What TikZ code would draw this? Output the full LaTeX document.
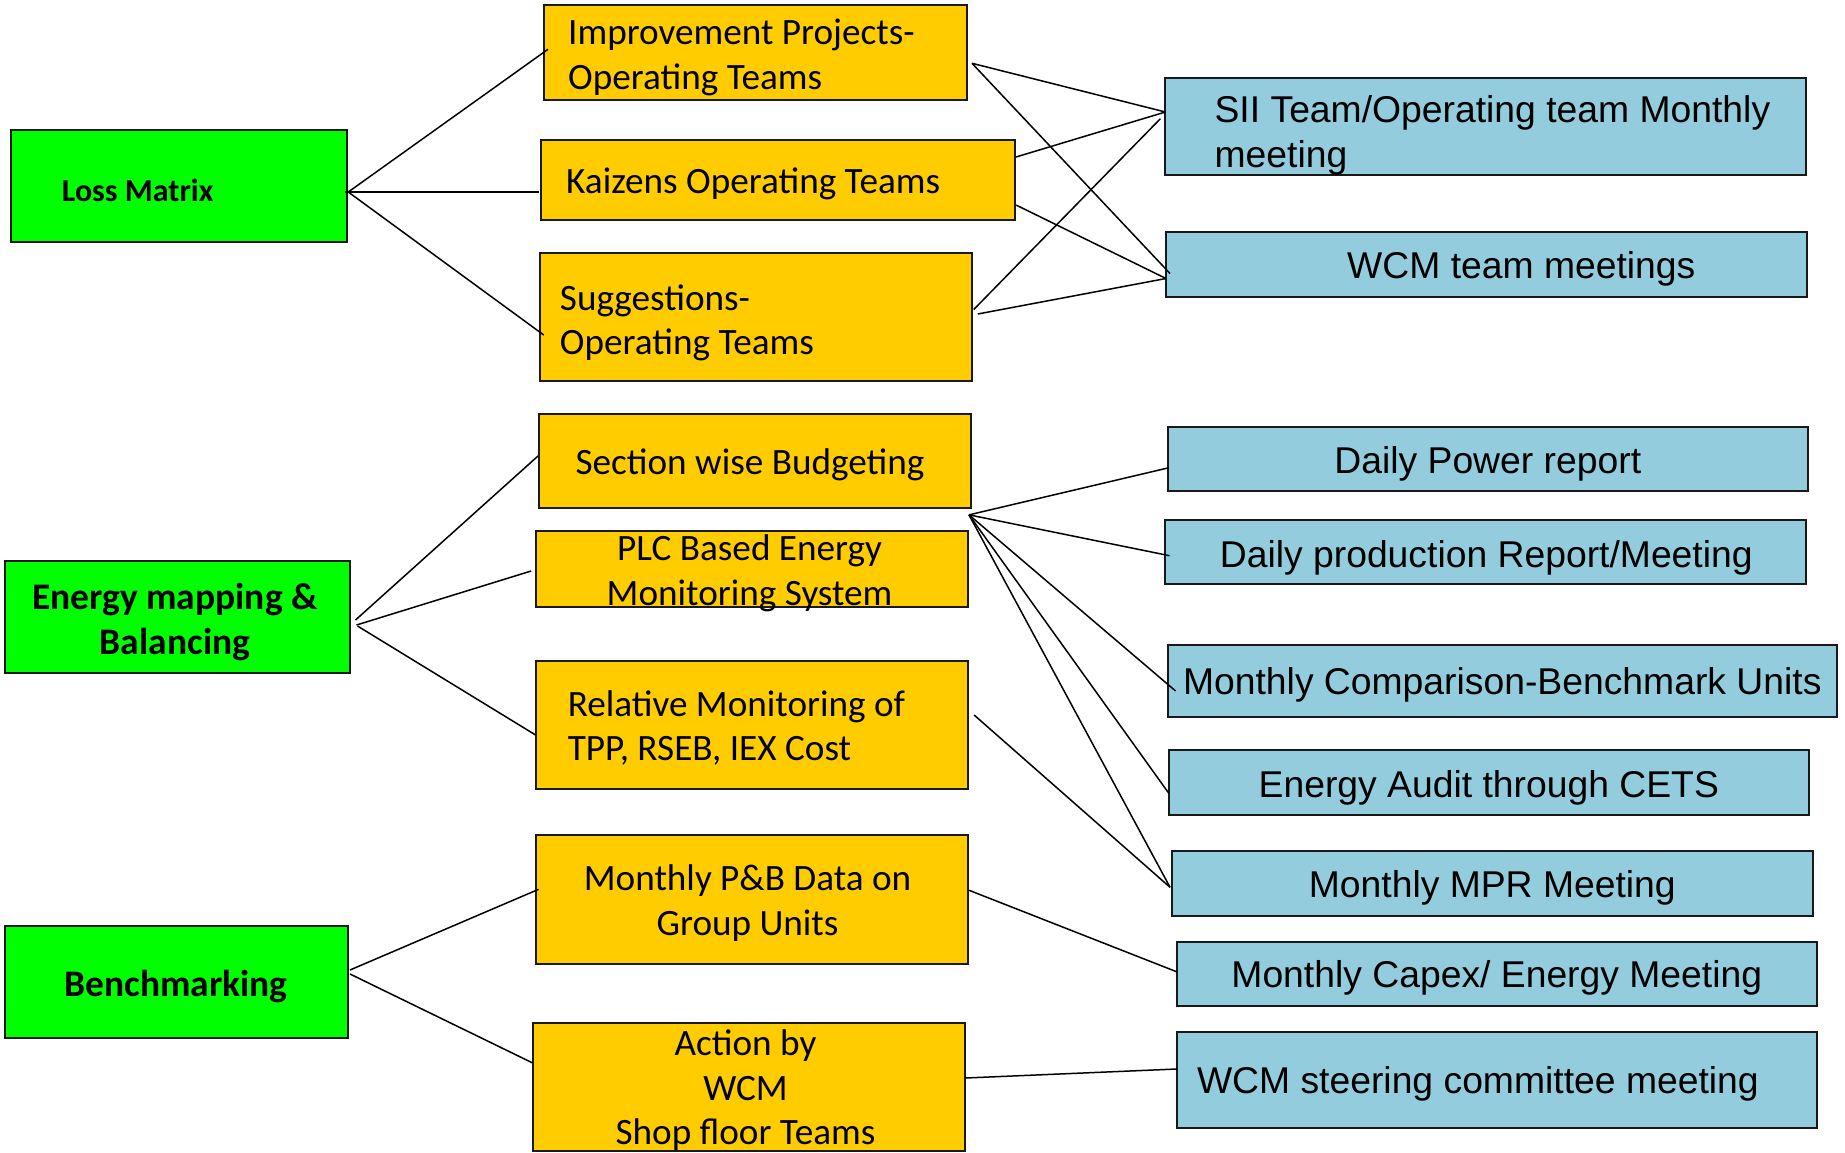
\documentclass[tikz,border=0pt]{standalone}
\usepackage{fontspec}
\setmainfont{Carlito}
\newfontfamily\arialfont{Liberation Sans}
\usetikzlibrary{calc}
\definecolor{lossgreen}{RGB}{0,255,0}
\definecolor{teamgold}{RGB}{255,204,0}
\definecolor{meetblue}{RGB}{147,205,221}

\begin{document}
\begin{tikzpicture}[x=1pt,y=-1pt,
  size/.style 2 args={minimum width=#1pt, minimum height=#2pt},
  base/.style={draw=black!90, line width=2pt, inner sep=0pt, outer sep=0pt},
  green box/.style={base, fill=lossgreen},
  gold box/.style={base, fill=teamgold},
  blue box/.style={base, fill=meetblue},
  txt/.style={inner sep=0pt, anchor=west, align=left},
  green text/.style={txt, font=\fontsize{37.5}{44.5}\selectfont\bfseries},
  small green text/.style={txt, font=\fontsize{32}{38}\selectfont\bfseries},
  gold text/.style={txt, font=\fontsize{37.2}{44.5}\selectfont},
  blue text/.style={txt, font=\arialfont\fontsize{37.3}{45}\selectfont},
  mid/.style={anchor=center, align=center},
  link/.style={draw=black, line width=1.5pt}]

\useasboundingbox[fill=white] (0,0) rectangle (1845,1152);

% ---- topics (left column)
\node[green box, size={336.5}{112}] (loss) at (179,186) {};
\node[small green text] (loss-t) at ($(loss.west)+(51,4.5)$) {Loss Matrix};
\node[green box, size={345}{112.5}] (energy) at (177,617) {};
\node[green text, mid] (energy-t) at ($(energy.center)+(-2,5)$) {Energy mapping \&\\Balancing};
\node[green box, size={343}{112.5}] (bench) at (176,982) {};
\node[green text, mid] (bench-t) at ($(bench.center)+(0,4.5)$) {Benchmarking};

% ---- activities (middle column)
\node[gold box, size={423}{95.3}] (imp) at (755.5,52.3) {};
\node[gold text] (imp-t) at ($(imp.west)+(24,5)$) {Improvement Projects-\\Operating Teams};
\node[gold box, size={474}{80.5}] (kai) at (778,180) {};
\node[gold text] (kai-t) at ($(kai.west)+(25,4)$) {Kaizens Operating Teams};
\node[gold box, size={432.5}{128}] (sug) at (756,317) {};
\node[gold text] (sug-t) at ($(sug.west)+(20,6)$) {Suggestions-\\Operating Teams};
\node[gold box, size={432}{93.7}] (sec) at (755,461) {};
\node[gold text, mid] (sec-t) at ($(sec.center)+(-5,4)$) {Section wise Budgeting};
\node[gold box, size={432}{75.7}] (plc) at (751.6,569) {};
\node[gold text, mid] (plc-t) at ($(plc.center)+(-2,4.5)$) {PLC Based Energy\\Monitoring System};
\node[gold box, size={432}{128}] (rel) at (751.6,725) {};
\node[gold text] (rel-t) at ($(rel.west)+(32,3)$) {Relative Monitoring of\\TPP, RSEB, IEX Cost};
\node[gold box, size={432}{128.7}] (pb) at (751.6,899.3) {};
\node[gold text, mid] (pb-t) at ($(pb.center)+(-4,4)$) {Monthly P\&B Data on\\Group Units};
\node[gold box, size={432.5}{128}] (act) at (749,1087) {};
\node[gold text, mid] (act-t) at ($(act.center)+(-3.5,3.5)$) {Action by\\WCM\\Shop floor Teams};

% ---- reviews (right column)
\node[blue box, size={640.6}{96.5}] (sii) at (1485.7,126.7) {};
\node[blue text] (sii-t) at ($(sii.west)+(49,8.5)$) {SII Team/Operating team Monthly\\meeting};
\node[blue box, size={640.6}{65}] (wcmt) at (1486.3,264.5) {};
\node[blue text] (wcmt-t) at ($(wcmt.west)+(181,4)$) {WCM team meetings};
\node[blue box, size={640.4}{64.3}] (dpr) at (1487.8,458.8) {};
\node[blue text, mid] (dpr-t) at ($(dpr.center)+(0,5)$) {Daily Power report};
\node[blue box, size={640.5}{64.7}] (dprod) at (1485.3,552) {};
\node[blue text, mid] (dprod-t) at ($(dprod.center)+(1,5.5)$) {Daily production Report/Meeting};
\node[blue box, size={669.4}{72}] (mcb) at (1502.3,681) {};
\node[blue text, mid] (mcb-t) at ($(mcb.center)+(0,4)$) {Monthly Comparison-Benchmark Units};
\node[blue box, size={640.4}{64.8}] (eac) at (1488.8,782.4) {};
\node[blue text, mid] (eac-t) at ($(eac.center)+(0,5)$) {Energy Audit through CETS};
\node[blue box, size={640.5}{64.5}] (mpr) at (1492.3,883.3) {};
\node[blue text, mid] (mpr-t) at ($(mpr.center)+(0,5)$) {Monthly MPR Meeting};
\node[blue box, size={640}{64.5}] (capex) at (1496.8,973.8) {};
\node[blue text, mid] (capex-t) at ($(capex.center)+(0,4)$) {Monthly Capex/ Energy Meeting};
\node[blue box, size={640}{96}] (steer) at (1496.8,1080) {};
\node[blue text] (steer-t) at ($(steer.west)+(20,4)$) {WCM steering committee meeting};

% ---- topic -> activity links
\draw[link] ($(loss.east)+(1,6)$) -- ($(imp.west)+(4,-3)$);
\draw[link] ($(loss.east)+(-2,6)$) -- ($(kai.west)+(-2,12)$);
\draw[link] ($(loss.east)+(1,6)$) -- ($(sug.west)+(4,18)$);

\draw[link] ($(energy.east)+(6,3)$) -- ($(sec.west)+(-1,-5)$);
\draw[link] ($(energy.east)+(7,8)$) -- ($(plc.west)+(-4.5,2)$);
\draw[link] ($(energy.east)+(8,9)$) -- ($(rel.west)+(0,10)$);

\draw[link] ($(bench.east)+(2.5,-12)$) -- ($(pb.west)+(3,-10)$);
\draw[link] ($(bench.east)+(2.5,-8)$) -- ($(act.west)+(0,-24)$);

% ---- activity -> review links
\draw[link] ($(imp.east)+(5,11)$) -- ($(sii.west)+(0,-14.7)$);
\draw[link] ($(imp.east)+(5,11)$) -- ($(wcmt.west)+(4,9)$);
\draw[link] ($(kai.east)+(1,-23)$) -- ($(sii.west)+(0,-14.7)$);
\draw[link] ($(kai.east)+(1,25)$) -- ($(wcmt.west)+(0,14)$);
\draw[link] ($(sug.east)+(1.5,-7.5)$) -- ($(sii.west)+(-5,-8)$);
\draw[link] ($(sug.east)+(5.5,-3)$) -- ($(wcmt.west)+(0,14)$);

\draw[link] ($(sec.south east)+(-2,7)$) -- ($(dpr.west)+(1,9)$);
\draw[link] ($(sec.south east)+(-2,7)$) -- ($(dprod.west)+(4.5,3.7)$);
\draw[link] ($(sec.south east)+(-2,7)$) -- ($(mcb.west)+(8,10)$);
\draw[link] ($(sec.south east)+(-2,7)$) -- ($(eac.west)+(0,10.6)$);
\draw[link] ($(sec.south east)+(-2,7)$) -- ($(mpr.west)+(-2,4)$);
\draw[link] ($(rel.east)+(6.5,-10)$) -- ($(mpr.west)+(-2,4)$);

\draw[link] ($(pb.east)+(1.5,-9)$) -- ($(capex.west)+(0,-2)$);
\draw[link] ($(act.east)+(0,-9)$) -- ($(steer.west)+(0,-11)$);
\end{tikzpicture}
\end{document}
